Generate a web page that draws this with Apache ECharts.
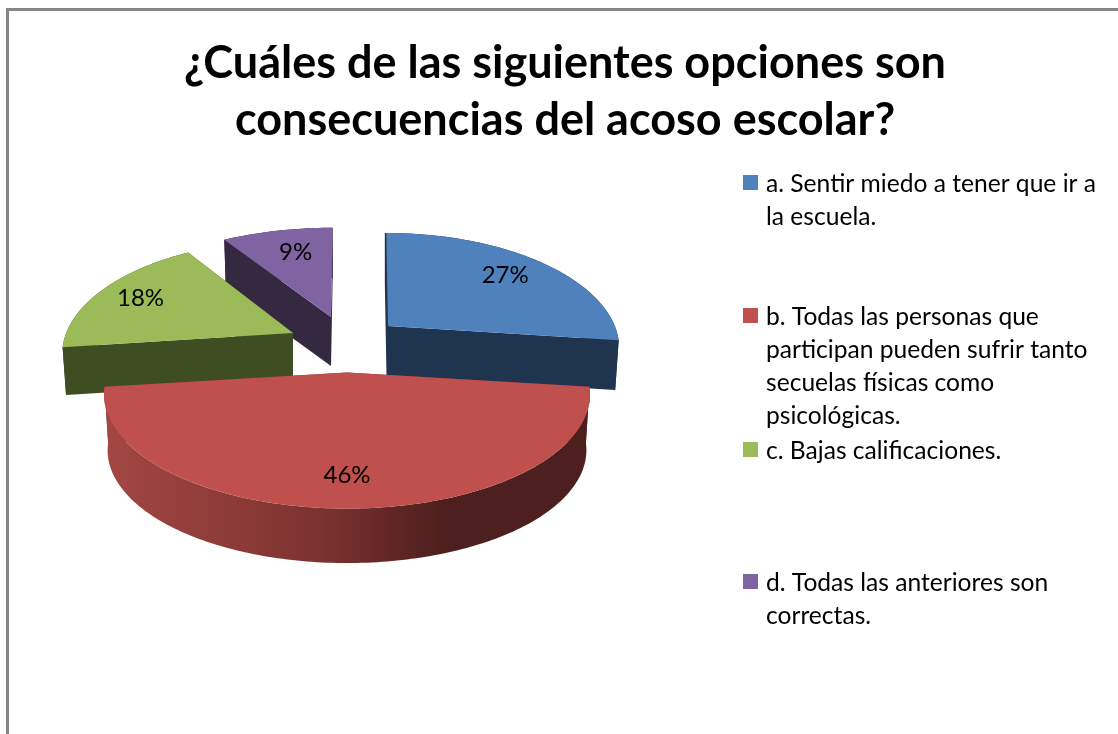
<!DOCTYPE html>
<html><head><meta charset="utf-8">
<style>html,body{margin:0;padding:0;background:#fff}#c{width:1118px;height:734px}</style>
<script src="https://cdn.jsdelivr.net/npm/echarts@6/dist/echarts.min.js"></script>
</head><body><div id="c"></div>
<script>
// ---- data ----
const categories = ['a','b','c','d'];
const values = [27, 46, 18, 9];
const valueLabels = ['27%','46%','18%','9%'];
const legendLines = [
  ['a. Sentir miedo a tener que ir a','la escuela.'],
  ['b. Todas las personas que','participan pueden sufrir tanto','secuelas físicas como','psicológicas.'],
  ['c. Bajas calificaciones.'],
  ['d. Todas las anteriores son','correctas.']
];
const titleText = '¿Cuáles de las siguientes opciones son\nconsecuencias del acoso escolar?';

// ---- styling / layout ----
const topColors = ['#4F81BD','#C0504D','#9BBB59','#8064A2'];
const wallColors = ['#1F344E','#7A312E','#3F4D23','#352841'];
const drawOrder = [1,3,2,0];
const pie = {cx:347, cy:372.5, a:238.7, b:110.5, k:0.188, bottomScale:0.985};
const explode = [
  {dx:41, dy:-46.5, sx:0.95, sy:1, depth:50, tilt:-2},
  {dx:0, dy:0, sx:1, sy:1, depth:56.5, tilt:0},
  {dx:-54, dy:-39.5, sx:0.95, sy:1, depth:48, tilt:0},
  {dx:-16, dy:-55.5, sx:0.98, sy:0.96, depth:49, tilt:2}
];
const labelRadius = [0.76,0.79,0.79,0.72];
const labelShiftX = [0,0,0,5];
const legendX = 766, legendSwatchX = 743, legendTops = [183,316,450,582], legendLineH = 33;

const redGrad = {type:'linear',x:0,y:0,x2:1,y2:0,colorStops:[
  {offset:0,color:'#A34744'},{offset:0.45,color:'#7C322F'},{offset:0.7,color:'#4D1F1E'},{offset:1,color:'#4D1F1E'}]};

function project(i, theta, r){
  const e = explode[i], u = Math.sin(theta), v = Math.cos(theta);
  const w = 1/(1+pie.k*r*v);
  return [pie.cx+e.dx + pie.a*e.sx*r*u*w + e.tilt*r*v*w,
          pie.cy+e.dy - pie.b*e.sy*r*v*w];
}
function dropped(i, p){
  const e = explode[i], ax = pie.cx+e.dx, ay = pie.cy+e.dy;
  return [ax+(p[0]-ax)*pie.bottomScale, ay+(p[1]-ay)*pie.bottomScale+e.depth];
}
const total = values.reduce((s,x)=>s+x,0);

function renderSlice(params, api){
  const i = params.dataIndex;
  const val = api.value(0);
  let before = 0; for(let j=0;j<i;j++) before += values[j];
  const t0 = before/total*2*Math.PI, t1 = (before+val)/total*2*Math.PI;
  const rim = [];
  const n = Math.max(8, Math.round((t1-t0)*180/Math.PI));
  for(let s=0;s<=n;s++) rim.push(project(i, t0+(t1-t0)*s/n, 1));
  const apex = project(i,0,0);
  const z = drawOrder[i]*10;
  const wall = wallColors[i];
  const poly = (pts, fill, zz, extra) => ({type:'polygon', shape:{points:pts}, z2:zz, style:Object.assign({fill}, extra||{}), silent:true});
  const startWall = [rim[0], apex, dropped(i,apex), dropped(i,rim[0])];
  const endWall = [rim[n], apex, dropped(i,apex), dropped(i,rim[n])];
  const outerWall = rim.concat(rim.slice().reverse().map(p=>dropped(i,p)));
  const children = [];
  children.push(poly(startWall, wall, z+1, i===0 ? {stroke:wall, lineWidth:3} : {}));
  children.push(poly(endWall, wall, z+1));
  children.push(poly(outerWall, i===1 ? redGrad : wall, z+2));
  children.push(poly([apex].concat(rim), topColors[i], z+3));
  const lp = project(i,(t0+t1)/2,labelRadius[i]);
  children.push({type:'text', z2:100, silent:true, style:{x:lp[0]+labelShiftX[i], y:lp[1], text:valueLabels[i],
    fill:'#000', font:'24px Lato, sans-serif', align:'center', verticalAlign:'middle'}});
  return {type:'group', children};
}

const graphics = [{type:'rect', silent:true, z:-1, shape:{x:7.5,y:9.5,width:2000,height:2000},
  style:{fill:'#fff',stroke:'#868686',lineWidth:3}}];
legendLines.forEach((lines,i)=>{
  graphics.push({type:'rect', silent:true, shape:{x:legendSwatchX,y:legendTops[i]-8,width:15,height:15}, style:{fill:topColors[i]}});
  lines.forEach((t,j)=>{
    graphics.push({type:'text', silent:true, style:{x:legendX, y:legendTops[i]+j*legendLineH+1, text:t,
      fill:'#000', font:'24.6px Lato, sans-serif', align:'left', verticalAlign:'middle'}});
  });
});

const chart = echarts.init(document.getElementById('c'), null, {renderer:'canvas'});
chart.setOption({
  animation:false,
  backgroundColor:'#fff',
  title:{text:titleText, left:564, top:30, textAlign:'center',
    textStyle:{fontFamily:'Lato, sans-serif', fontWeight:'bold', fontSize:45, lineHeight:57, color:'#000'}},
  graphic:graphics,
  series:[{
    type:'custom', coordinateSystem:'none', silent:true, clip:false,
    renderItem:renderSlice,
    encode:{value:0},
    data:values.map((v,i)=>({name:categories[i], value:[v]}))
  }]
});
chart.setOption({title:{left:560}});
</script></body></html>
